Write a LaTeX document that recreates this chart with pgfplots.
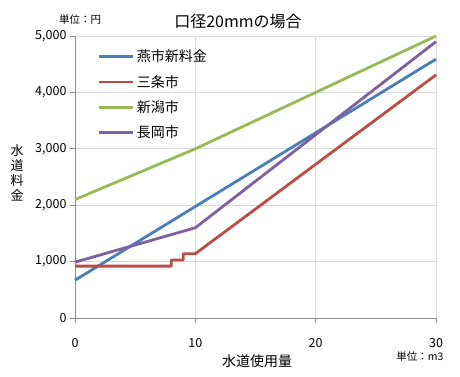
\documentclass[border=0pt]{standalone}
\usepackage{fontspec}
\setmainfont{Noto Sans CJK JP}
\usepackage{pgfplots}
\pgfplotsset{compat=1.18}
\definecolor{cblue}{HTML}{4A7EBB}
\definecolor{cred}{HTML}{BE4B48}
\definecolor{cgreen}{HTML}{98B954}
\definecolor{cpurple}{HTML}{7D60A0}
\definecolor{gridc}{HTML}{D9D9D9}
\definecolor{axc}{HTML}{8C8C8C}
\begin{document}
\begin{tikzpicture}[x=1pt,y=1pt]
\useasboundingbox (0,0) rectangle (460,377);
\begin{axis}[
  at={(75pt,59pt)}, anchor=south west,
  scale only axis, width=361pt, height=282pt,
  xmin=0, xmax=30, ymin=0, ymax=5000,
  xtick={0,10,20,30}, ytick={0,1000,2000,3000,4000,5000},
  axis x line*=bottom, axis y line*=left,
  axis line style={axc, line width=0.8pt, -},
  tick align=outside, major tick length=5pt,
  tick style={axc, line width=0.6pt},
  grid=major, major grid style={gridc, line width=0.8pt},
  scaled y ticks=false,
  /pgf/number format/assume math mode=true,
  /pgf/number format/1000 sep={,},
  ticklabel style={font=\fontsize{12.5}{14}\selectfont, text=black},
  xticklabel style={yshift=-12pt},
  legend style={at={(0.055,0.965)}, anchor=north west, draw=none, fill=none,
    font=\fontsize{14}{16}\selectfont, row sep=8pt, cells={anchor=west}},
  legend image code/.code={\draw[#1, line width=2.8pt] (0pt,0pt) -- (34pt,0pt);},
  every axis plot/.append style={line width=2.8pt, line join=round},
  clip=false,
]
\addplot[cblue, mark=none] coordinates {(0,670) (30,4590)};
\addlegendentry{燕市新料金}
\addplot[cred, mark=none] coordinates {(0,920) (8,920) (8,1030) (9,1030) (9,1140) (10,1140) (30,4310)};
\addlegendentry{三条市}
\addplot[cgreen, mark=none] coordinates {(0,2100) (10,3000) (20,4000) (30,5000)};
\addlegendentry{新潟市}
\addplot[cpurple, mark=none] coordinates {(0,990) (10,1600) (30,4900)};
\addlegendentry{長岡市}
\end{axis}
\node[font=\fontsize{16}{18}\selectfont] at (238,356) {口径20mmの場合};
\node[font=\fontsize{10.5}{12}\selectfont] at (80,357) {単位：円};
\node[font=\fontsize{10.5}{12}\selectfont] at (420,20) {単位：m3};
\node[font=\fontsize{14}{16}\selectfont] at (257,16) {水道使用量};
\node[font=\fontsize{13}{15}\selectfont, align=center, inner sep=0pt] at (17,204) {水\\道\\料\\金};
\end{tikzpicture}
\end{document}
